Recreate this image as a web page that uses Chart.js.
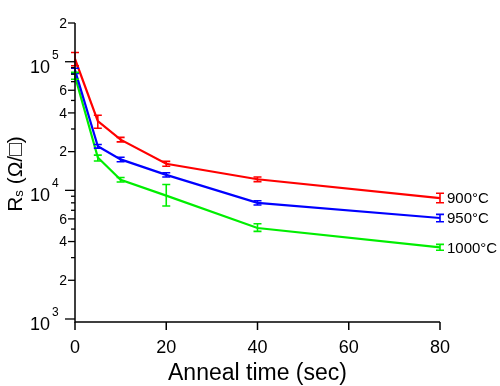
<!DOCTYPE html>
<html>
<head>
<meta charset="utf-8">
<script src="https://cdn.jsdelivr.net/npm/chart.js@4.4.1/dist/chart.umd.min.js"></script>
<style>
    html, body { margin: 0; padding: 0; background: #fff; }
    #wrap { width: 500px; height: 386px; }
</style>
</head>
<body>
<div id="wrap"><canvas id="chart" width="500" height="386"></canvas></div>
<script>
// Anneal time (sec)
const times = [0, 5, 10, 20, 40, 80];

// Sheet resistance (ohm/sq) with error bar ends
const rs900 = [105000, 34500, 24800, 16100, 12200, 8700];
const rs900Hi = [118000, 38400, 25800, 16800, 12700, 9500];
const rs900Lo = [93000, 30400, 23800, 15400, 11700, 8000];

const rs950 = [86000, 22000, 17400, 13200, 8000, 6100];
const rs950Hi = [89000, 22700, 18100, 13700, 8300, 6500];
const rs950Lo = [81000, 21300, 16700, 12700, 7700, 5700];

const rs1000 = [77000, 18000, 12100, 9100, 5100, 3600];
const rs1000Hi = [82600, 18800, 12600, 11100, 5500, 3800];
const rs1000Lo = [73000, 16900, 11600, 7550, 4800, 3420];

const seriesNames = ['900°C', '950°C', '1000°C'];

// Tick labels
const xTicks = [0, 20, 40, 60, 80];
const yDecadeVals = [1e3, 1e4, 1e5];
const yDecadeExps = ['3', '4', '5'];
const yMinorVals = [2e3, 4e3, 6e3, 2e4, 4e4, 6e4, 2e5];
const yMinorLabels = ['2', '4', '6', '2', '4', '6', '2'];

const FONT = '"Liberation Sans", Arial, sans-serif';

function pts(vals) {
    return times.map((t, i) => ({ x: t, y: vals[i] }));
}

function makeSet(name, vals, hi, lo, color) {
    return {
        label: name,
        data: pts(vals),
        errHi: hi,
        errLo: lo,
        borderColor: color,
        backgroundColor: color,
        borderWidth: 2.2,
        pointRadius: 0,
        tension: 0,
        clip: false
    };
}

// error bars, axes and labels
const decorPlugin = {
    id: 'decor',
    afterDatasetsDraw(chart) {
        const ctx = chart.ctx;
        const xs = chart.scales.x;
        const ys = chart.scales.y;
        const area = chart.chartArea;

        // error bars
        chart.data.datasets.forEach(ds => {
            ctx.save();
            ctx.strokeStyle = ds.borderColor;
            ctx.lineWidth = 1.6;
            ds.data.forEach((p, i) => {
                const px = xs.getPixelForValue(p.x);
                const top = ys.getPixelForValue(ds.errHi[i]);
                const bot = ys.getPixelForValue(ds.errLo[i]);
                ctx.beginPath();
                ctx.moveTo(px, top); ctx.lineTo(px, bot);
                ctx.moveTo(px - 4, top); ctx.lineTo(px + 4, top);
                ctx.moveTo(px - 4, bot); ctx.lineTo(px + 4, bot);
                ctx.stroke();
            });
            ctx.restore();
        });

        ctx.save();
        ctx.strokeStyle = '#000';
        ctx.fillStyle = '#000';
        ctx.lineWidth = 1.5;

        // axis lines
        ctx.beginPath();
        ctx.moveTo(area.left, area.top);
        ctx.lineTo(area.left, area.bottom);
        ctx.lineTo(xs.getPixelForValue(80), area.bottom);
        ctx.stroke();

        // x ticks and labels
        ctx.font = '18px ' + FONT;
        ctx.textAlign = 'center';
        ctx.textBaseline = 'alphabetic';
        xTicks.forEach(v => {
            const px = xs.getPixelForValue(v);
            ctx.beginPath();
            ctx.moveTo(px, area.bottom);
            ctx.lineTo(px, area.bottom + 8);
            ctx.stroke();
            ctx.fillText(String(v), px, 353);
        });

        // y ticks
        ctx.lineWidth = 1.3;
        for (let e = 3; e <= 5; e++) {
            for (let m = 1; m <= 9; m++) {
                const v = m * Math.pow(10, e);
                if (v < ys.min || v > ys.max) continue;
                const py = ys.getPixelForValue(v);
                let len = 4;
                if (m === 1) len = 10;
                else if (m === 2 || m === 4 || m === 6) len = 7;
                ctx.beginPath();
                ctx.moveTo(area.left - len, py);
                ctx.lineTo(area.left, py);
                ctx.stroke();
            }
        }

        // y minor labels
        ctx.font = '14px ' + FONT;
        ctx.textAlign = 'right';
        ctx.textBaseline = 'middle';
        yMinorVals.forEach((v, i) => {
            ctx.fillText(yMinorLabels[i], area.left - 8, ys.getPixelForValue(v) + 1);
        });

        // y decade labels
        yDecadeVals.forEach((v, i) => {
            const py = ys.getPixelForValue(v);
            ctx.textBaseline = 'alphabetic';
            ctx.textAlign = 'right';
            ctx.font = '18px ' + FONT;
            ctx.fillText('10', area.left - 25, py + 11);
            ctx.textAlign = 'left';
            ctx.font = '12px ' + FONT;
            ctx.fillText(yDecadeExps[i], area.left - 23, py - 3);
        });

        // x title
        ctx.font = '23px ' + FONT;
        ctx.textAlign = 'center';
        ctx.textBaseline = 'alphabetic';
        ctx.fillText('Anneal time (sec)', (area.left + area.right) / 2, 380);

        // y title: R_s (Ω/□)
        ctx.save();
        ctx.translate(22, 174);
        ctx.rotate(-Math.PI / 2);
        ctx.textAlign = 'left';
        ctx.textBaseline = 'alphabetic';
        const big = '21px ' + FONT;
        const small = '13px ' + FONT;
        ctx.font = big;
        const wR = ctx.measureText('R').width;
        const wRest = ctx.measureText(' (Ω/□)').width;
        ctx.font = small;
        const wS = ctx.measureText('s').width;
        let x0 = -(wR + wS + wRest) / 2;
        ctx.font = big;
        ctx.fillText('R', x0, 0);
        ctx.font = small;
        ctx.fillText('s', x0 + wR, 1);
        ctx.font = big;
        ctx.fillText(' (Ω/□)', x0 + wR + wS, 0);
        ctx.restore();

        // series labels at line ends
        ctx.font = '15px ' + FONT;
        ctx.textAlign = 'left';
        ctx.textBaseline = 'middle';
        chart.data.datasets.forEach((ds, i) => {
            const last = ds.data[ds.data.length - 1];
            ctx.fillText(seriesNames[i], xs.getPixelForValue(last.x) + 7, ys.getPixelForValue(last.y) + 1);
        });

        ctx.restore();
    }
};

new Chart(document.getElementById('chart'), {
    type: 'line',
    data: {
        datasets: [
            makeSet(seriesNames[0], rs900, rs900Hi, rs900Lo, '#ff0000'),
            makeSet(seriesNames[1], rs950, rs950Hi, rs950Lo, '#0000ff'),
            makeSet(seriesNames[2], rs1000, rs1000Hi, rs1000Lo, '#00ee00')
        ]
    },
    options: {
        responsive: false,
        animation: false,
        devicePixelRatio: 1,
        layout: { padding: { left: 75, top: 23, right: 60, bottom: 64 } },
        plugins: { legend: { display: false }, tooltip: { enabled: false } },
        scales: {
            x: { type: 'linear', min: 0, max: 80, display: false },
            y: { type: 'logarithmic', min: 947.6, max: 2e5, display: false }
        }
    },
    plugins: [decorPlugin]
});
</script>
</body>
</html>
